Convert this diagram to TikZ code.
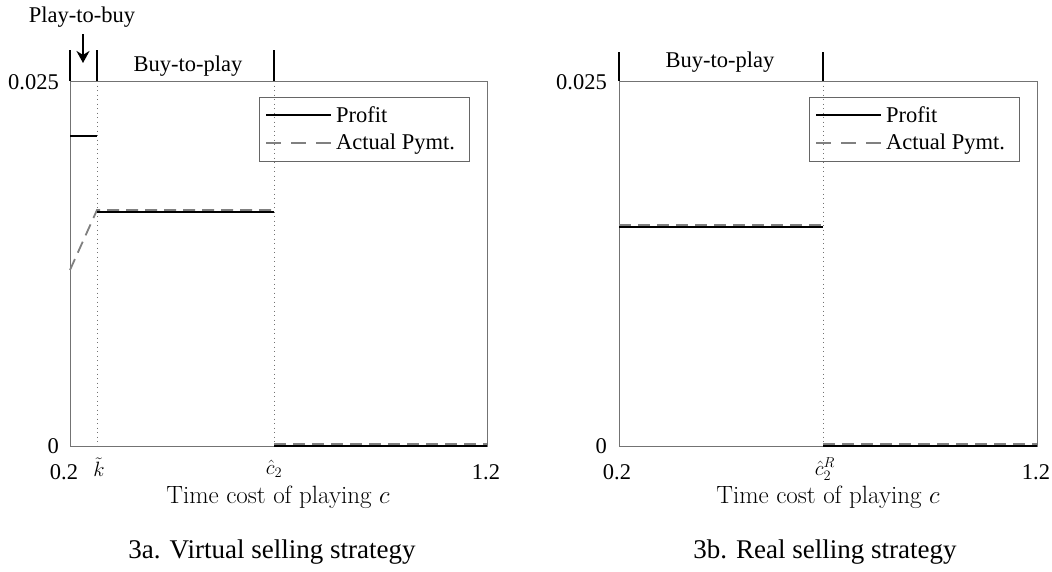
\documentclass[tikz,border=0pt]{standalone}
\usepackage{fontspec}
\setmainfont{Liberation Serif}
\newfontfamily\lmfont{Latin Modern Roman}
\usetikzlibrary{arrows.meta}
\tikzset{
  axisbox/.style={draw=black!55, line width=1pt},
  legbox/.style={draw=black!60, line width=1pt},
  profit/.style={black, line width=1.8pt},
  pymt/.style={black!50, line width=1.8pt, dash pattern=on 12pt off 7pt},
  legpymt/.style={pymt, dash pattern=on 15pt off 10pt},
  guide/.style={black!55, line width=1pt, dash pattern=on 1pt off 3.5pt},
  phase/.style={black, line width=1.5pt},
  lbl/.style={font=\fontsize{22.5}{26}\selectfont, inner sep=0pt},
  axlbl/.style={font=\lmfont\fontsize{25}{29}\selectfont, inner sep=0pt},
  caplbl/.style={font=\fontsize{27}{31}\selectfont, inner sep=0pt},
}
\begin{document}
\begin{tikzpicture}[x=1pt, y=-1pt]
\useasboundingbox (0,0) rectangle (1052,571);

% 3a. Virtual selling strategy
\coordinate (aNW) at (70,81);
\coordinate (aSE) at (487,446);
\draw[axisbox] (aNW) rectangle (aSE);
\draw[guide] (97,81) -- (97,446);
\draw[guide] (274,81) -- (274,446);

\draw[profit] (70,136) -- (97,136);
\draw[pymt] (70,270) -- (97,210) -- (274,210);
\draw[profit] (97,212) -- (274,212);
\draw[pymt] (274,444) -- (487,444);
\draw[profit] (274,446) -- (487,446);

\draw[legbox] (259,97) rectangle (469,161);
\draw[profit] (266,115) -- (331,115);
\draw[legpymt] (266,143) -- (331,143);
\node[lbl, anchor=west] (aprofit) at (336,115) {Profit};
\node[lbl, anchor=west] (apymt) at (336,144) {Actual Pymt.};

\draw[phase] (70,50) -- (70,81);
\draw[phase] (97,50) -- (97,81);
\draw[phase] (274,50) -- (274,81);
\node[lbl] (abtp) at (188,66) {Buy-to-play};
\node[lbl] (aptb) at (82,17) {Play-to-buy};
\coordinate (aptbtip) at (83,63);
\draw[black, line width=2pt, -{Stealth[length=12pt, width=13pt]}] (83,34) -- (aptbtip);

\node[lbl, anchor=east] (aytop) at (59,82) {0.025};
\node[lbl, anchor=east] (ayzero) at (59,446) {0};
\node[lbl] (axmin) at (64,472) {0.2};
\node[lbl] (axk) at (99,467) {$\tilde{k}$};
\node[lbl] (axc) at (274,469) {$\hat{c}_2$};
\node[lbl] (axmax) at (486,472) {1.2};
\node[axlbl] (axtitle) at (278,497) {Time cost of playing $c$};
\node[caplbl] (acap) at (272,552) {3a. Virtual selling strategy};

% 3b. Real selling strategy
\coordinate (bNW) at (619,81);
\coordinate (bSE) at (1037,446);
\draw[axisbox] (bNW) rectangle (bSE);
\draw[guide] (823,81) -- (823,446);

\draw[pymt] (619,225) -- (823,225);
\draw[profit] (619,227) -- (823,227);
\draw[pymt] (823,444) -- (1037,444);
\draw[profit] (823,446) -- (1037,446);

\draw[legbox] (809,97) rectangle (1019,161);
\draw[profit] (816,115) -- (881,115);
\draw[legpymt] (816,143) -- (881,143);
\node[lbl, anchor=west] (bprofit) at (886,115) {Profit};
\node[lbl, anchor=west] (bpymt) at (886,144) {Actual Pymt.};

\draw[phase] (619,52) -- (619,81);
\draw[phase] (823,52) -- (823,81);
\node[lbl] (bbtp) at (720,62) {Buy-to-play};

\node[lbl, anchor=east] (bytop) at (607,82) {0.025};
\node[lbl, anchor=east] (byzero) at (607,446) {0};
\node[lbl] (bxmin) at (617,472) {0.2};
\node[lbl] (bxc) at (825,469) {$\hat{c}_2^{R}$};
\node[lbl] (bxmax) at (1036,472) {1.2};
\node[axlbl] (bxtitle) at (828,497) {Time cost of playing $c$};
\node[caplbl] (bcap) at (825,552) {3b. Real selling strategy};
\end{tikzpicture}
\end{document}
